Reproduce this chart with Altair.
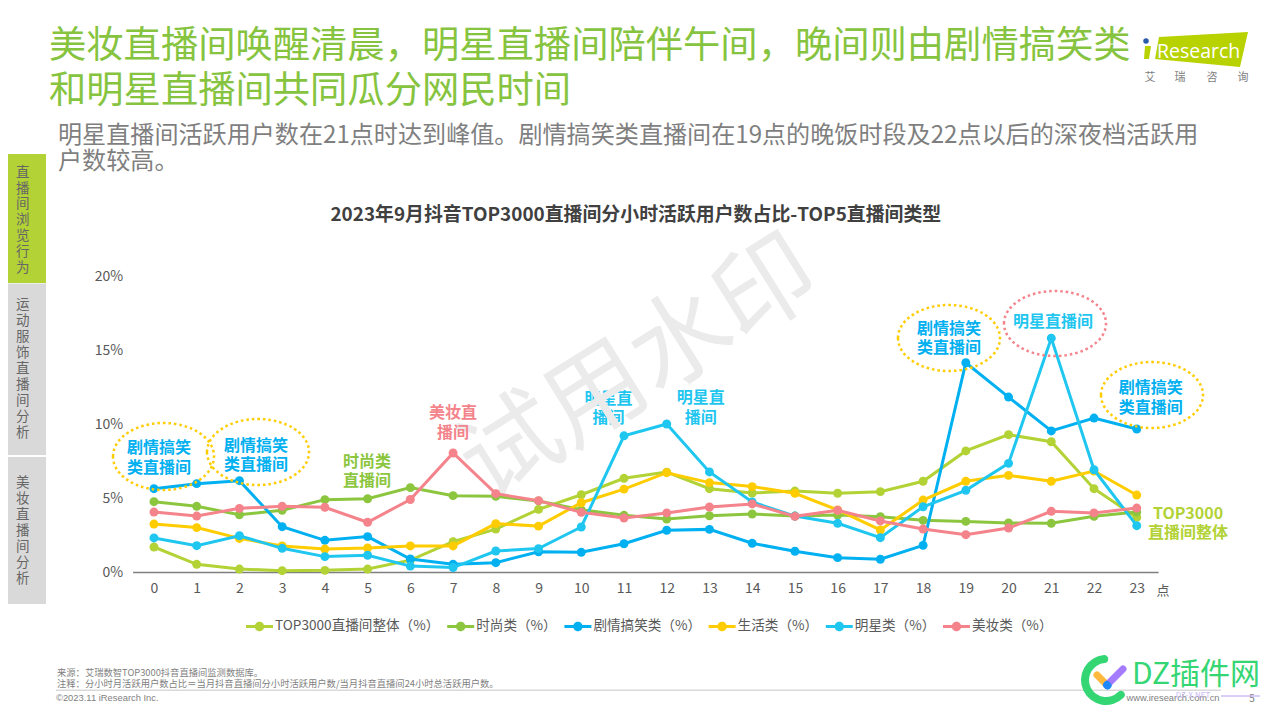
import altair as alt
import pandas as pd

FONT = "Noto Sans CJK SC"

HOURS = list(range(24))
SERIES_NAMES = ["TOP3000直播间整体（%）", "时尚类（%）", "剧情搞笑类（%）", "生活类（%）", "明星类（%）", "美妆类（%）"]
TOP3000 = [1.69, 0.52, 0.2, 0.09, 0.11, 0.2, 0.8, 2.05, 2.9, 4.23, 5.22, 6.33, 6.75, 5.63, 5.34, 5.47, 5.32, 5.43, 6.13, 8.18, 9.28, 8.8, 5.63, 3.69]
FASHION = [4.75, 4.44, 3.87, 4.17, 4.89, 4.95, 5.7, 5.16, 5.11, 4.8, 4.2, 3.83, 3.58, 3.8, 3.92, 3.78, 3.85, 3.74, 3.49, 3.42, 3.31, 3.29, 3.76, 4.05]
COMEDY = [5.63, 5.97, 6.17, 3.06, 2.14, 2.39, 0.88, 0.52, 0.63, 1.37, 1.33, 1.91, 2.82, 2.88, 1.94, 1.4, 0.97, 0.86, 1.8, 14.14, 11.82, 9.53, 10.4, 9.66]
LIFE = [3.24, 3.0, 2.27, 1.76, 1.55, 1.62, 1.76, 1.76, 3.27, 3.1, 4.68, 5.6, 6.71, 6.04, 5.77, 5.32, 4.19, 2.84, 4.86, 6.13, 6.53, 6.13, 6.82, 5.2]
STAR = [2.3, 1.78, 2.45, 1.6, 1.04, 1.13, 0.4, 0.3, 1.42, 1.58, 3.04, 9.2, 10.0, 6.76, 4.73, 3.78, 3.29, 2.32, 4.41, 5.52, 7.34, 15.8, 6.91, 3.13]
BEAUTY = [4.05, 3.78, 4.3, 4.44, 4.37, 3.36, 4.9, 8.04, 5.29, 4.82, 4.03, 3.65, 3.99, 4.39, 4.6, 3.76, 4.17, 3.45, 2.9, 2.52, 2.97, 4.1, 3.99, 4.32]
SERIES_VALUES = [TOP3000, FASHION, COMEDY, LIFE, STAR, BEAUTY]
SERIES_COLORS = ["#b2d235", "#8cc63f", "#00b0f0", "#ffcc00", "#1fc6f0", "#f4838b"]

HEADLINE = ["美妆直播间唤醒清晨，明星直播间陪伴午间，晚间则由剧情搞笑类", "和明星直播间共同瓜分网民时间"]
SUBHEAD = ["明星直播间活跃用户数在21点时达到峰值。剧情搞笑类直播间在19点的晚饭时段及22点以后的深夜档活跃用", "户数较高。"]
CHART_TITLE = "2023年9月抖音TOP3000直播间分小时活跃用户数占比-TOP5直播间类型"
FOOT_SOURCE = "来源：艾瑞数智TOP3000抖音直播间监测数据库。"
FOOT_NOTE = "注释：分小时月活跃用户数占比＝当月抖音直播间分小时活跃用户数/当月抖音直播间24小时总活跃用户数。"
COPYRIGHT = "©2023.11 iResearch Inc."
SITE = "www.iresearch.com.cn"
SIDE_TABS = ["直播间浏览行为", "运动服饰直播间分析", "美妆直播间分析"]

# plot-area origin on the page (page margin 8 px included)
X0, Y0 = 132.6, 276.0
W, H = 1025.5, 296.0
LEFT, TOP = X0 - 8, Y0 - 8


def px(v):
    return v - X0


def py(v):
    return v - Y0


ONE = pd.DataFrame({"a": [0]})


def label(text, x, y, size, color, weight="normal", align="center", angle=None, family=FONT):
    kw = dict(font=family, fontSize=size, color=color, fontWeight=weight, align=align, baseline="middle")
    if angle is not None:
        kw["angle"] = angle
    return alt.Chart(pd.DataFrame({"t": [text]})).mark_text(**kw).encode(
        text="t:N", x=alt.value(px(x)), y=alt.value(py(y + 0.05 * size)))


def box(x1, x2, y1, y2, color):
    return alt.Chart(ONE).mark_rect(color=color, opacity=1).encode(
        x=alt.value(px(x1)), x2=alt.value(px(x2)), y=alt.value(py(y1)), y2=alt.value(py(y2)))


def seg(x1, y1, x2, y2, color, width, cap="butt"):
    return alt.Chart(ONE).mark_rule(color=color, strokeWidth=width, strokeCap=cap).encode(
        x=alt.value(px(x1)), x2=alt.value(px(x2)), y=alt.value(py(y1)), y2=alt.value(py(y2)))


def ellipse_path(ratio):
    k = 0.5523
    r = ratio
    return (f"M-1,0C-1,{-k*r:.4f},{-k:.4f},{-r:.4f},0,{-r:.4f}C{k:.4f},{-r:.4f},1,{-k*r:.4f},1,0"
            f"C1,{k*r:.4f},{k:.4f},{r:.4f},0,{r:.4f}C{-k:.4f},{r:.4f},-1,{k*r:.4f},-1,0Z")


def ellipse(cx, cy, rx, ry, color):
    return alt.Chart(ONE).mark_point(shape=ellipse_path(ry / rx), size=(2 * rx) ** 2, filled=False,
                                     stroke=color, strokeWidth=2.5, strokeDash=[2.5, 3], opacity=1).encode(
        x=alt.value(px(cx)), y=alt.value(py(cy)))


# legend marker: a line with a dot
r, k, t = 0.35, 0.35 * 0.5523, 0.11
LEGEND_SYMBOL = (f"M-1,{-t}H1V{t}H-1Z"
                 f"M{-r},0C{-r},{-k},{-k},{-r},0,{-r}C{k},{-r},{r},{-k},{r},0C{r},{k},{k},{r},0,{r}C{-k},{r},{-r},{k},{-r},0Z")

df = pd.DataFrame({
    "hour": HOURS * len(SERIES_NAMES),
    "value": [v for s in SERIES_VALUES for v in s],
    "series": [n for n in SERIES_NAMES for _ in HOURS],
})

x_enc = alt.X("hour:Q", scale=alt.Scale(domain=[-0.5, 23.5], nice=False, zero=False),
              axis=alt.Axis(values=HOURS, title=None, grid=False, ticks=False, format="d", labelFlush=False,
                            labelOverlap=False, labelFont=FONT, labelFontSize=14, labelColor="#595959",
                            labelPadding=9, domainColor="#7f7f7f", domainWidth=1.5))
y_enc = alt.Y("value:Q", scale=alt.Scale(domain=[0, 20], nice=False),
              axis=alt.Axis(values=[0, 5, 10, 15, 20], title=None, grid=False, ticks=False, domain=False,
                            labelExpr="datum.value + '%'", labelFont=FONT, labelFontSize=14, labelColor="#595959",
                            labelPadding=10))
color_scale = alt.Scale(domain=SERIES_NAMES, range=SERIES_COLORS)
legend = alt.Legend(title=None, orient="none", legendX=246 - X0, legendY=626 - Y0 - 13.5, direction="horizontal",
                    columns=6, symbolType=LEGEND_SYMBOL, symbolSize=729, symbolStrokeWidth=0, symbolOpacity=1,
                    labelFont=FONT, labelFontSize=13.6, labelColor="#595959", labelOffset=2, columnPadding=7.2,
                    labelLimit=300)

layers = []

# page furniture
layers += [box(1, 46, 154, 283, "#b2d235"), box(1, 46, 283.5, 455, "#d9d9d9"), box(1, 46, 457, 604, "#d9d9d9")]
for tab, start, step in zip(SIDE_TABS, [172, 304, 482], [15.9, 16.1, 16.0]):
    for i, ch in enumerate(tab):
        layers.append(label(ch, 22.7, start + i * step, 13.5, "#666666"))

layers += [label(HEADLINE[0], 49, 45, 37.3, "#86c440", align="left"), label(HEADLINE[1], 49, 90, 37.3, "#86c440", align="left")]
layers += [label(SUBHEAD[0], 58, 135, 24.1, "#7f7f7f", align="left"), label(SUBHEAD[1], 58, 161, 24.1, "#7f7f7f", align="left")]

# this label sits under the watermark, as in the reference
layers += [label("明星直", 608.6, 398, 16, "#1fc6f0", "bold"), label("播间", 608.6, 417, 16, "#1fc6f0", "bold")]
layers.append(label("试用水印", 640, 365, 100, "#ebebeb", angle=328))

# series: dots first so that the shared legend takes its filled symbol from them
color_enc = alt.Color("series:N", scale=color_scale, legend=legend)
for name in SERIES_NAMES:
    d = df[df.series == name]
    layers.append(alt.Chart(d).mark_circle(size=80, opacity=1).encode(x=x_enc, y=y_enc, color=color_enc))
    layers.append(alt.Chart(d).mark_line(strokeWidth=3).encode(x=x_enc, y=y_enc, color=color_enc))

# callouts
C_BLUE, C_SKY, C_GREEN, C_PINK, C_LIME = "#00b0f0", "#1fc6f0", "#8cc63f", "#f4838b", "#b2d235"
layers += [ellipse(163.5, 456.5, 50.5, 33.5, "#ffcc00"), ellipse(258, 452, 51, 33, "#ffcc00"),
           ellipse(949, 338, 51, 33, "#ffcc00"), ellipse(1055, 323.5, 51, 32.5, C_PINK),
           ellipse(1152, 395, 51, 33, "#ffcc00")]
CALLOUTS = [("剧情搞笑", 159, 447, C_BLUE), ("类直播间", 159, 467, C_BLUE),
            ("剧情搞笑", 256, 445, C_BLUE), ("类直播间", 256, 464, C_BLUE),
            ("时尚类", 367, 461, C_GREEN), ("直播间", 367, 480, C_GREEN),
            ("美妆直", 453, 412, C_PINK), ("播间", 453, 432, C_PINK),
            ("明星直", 700.7, 397, C_SKY), ("播间", 700.7, 417, C_SKY),
            ("剧情搞笑", 949, 328, C_BLUE), ("类直播间", 949, 347, C_BLUE),
            ("明星直播间", 1053, 321, C_SKY),
            ("剧情搞笑", 1150.7, 387, C_BLUE), ("类直播间", 1150.7, 407, C_BLUE),
            ("TOP3000", 1188, 513, C_LIME), ("直播间整体", 1188, 532, C_LIME)]
layers += [label(t_, x_, y_, 16, c_, "bold") for t_, x_, y_, c_ in CALLOUTS]
layers.append(label("点", 1163, 590, 13, "#595959"))

# footer
layers += [label(FOOT_SOURCE, 57, 673, 9.3, "#7f7f7f", align="left"), label(FOOT_NOTE, 57, 684, 9.3, "#7f7f7f", align="left"),
           box(56, 1221, 689.5, 691, "#d9d9d9"), label(COPYRIGHT, 56, 698, 9.4, "#7f7f7f", align="left", family="Liberation Sans"),
           label(SITE, 1173, 698, 9.3, "#7f7f7f", family="Liberation Sans"), label("5", 1252, 698, 10, "#7f7f7f")]

# iResearch logo
LOGO_PATH = ("M-0.712,-0.25L1,-0.346L0.846,0.327L-0.788,0.173Z"
             "M-0.981,-0.077L-0.865,-0.077L-0.904,0.173L-1,0.173Z")
layers.append(alt.Chart(ONE).mark_point(shape=LOGO_PATH, size=104 ** 2, filled=True, color="#b8d200", opacity=1, strokeWidth=0).encode(
    x=alt.value(px(1196)), y=alt.value(py(50))))
layers.append(alt.Chart(ONE).mark_circle(size=30, color="#2a5caa", opacity=1).encode(x=alt.value(px(1146)), y=alt.value(py(41))))
layers.append(label("Research", 1157, 51, 19.5, "#ffffff", align="left", family="Open Sans"))
for ch, x_ in zip("艾瑞咨询", [1150, 1180, 1212, 1243]):
    layers.append(label(ch, x_, 77, 11, "#808080"))

# overlaid site mark at the lower right
DZ = "#34d673"
layers.append(alt.Chart(ONE).mark_arc(radius=25, radius2=17, theta=2.16, theta2=6.39, cornerRadius=4, color=DZ).encode(
    x=alt.value(px(1106)), y=alt.value(py(680))))
layers += [seg(1097, 675, 1107, 685, "#ffb93c", 7, "round"), seg(1107, 685, 1123, 669, "#a67cff", 7, "round"),
           seg(1107, 685, 1107.5, 685.5, "#1e88ff", 8, "round")]
layers.append(label("DZ插件网", 1132, 673, 30, DZ, align="left"))
layers.append(label("DZ-X.NET", 1193, 696, 8, "#c9b8f5"))
layers.append(seg(1221, 696, 1260, 696, "#b79cf5", 1))

chart = alt.layer(*layers).properties(
    width=W, height=H,
    # Vega measures a top title's offset from the top of everything drawn (the headline), hence the negative value
    title=alt.TitleParams(CHART_TITLE, font=FONT, fontSize=18.9, fontWeight="bold", color="#404040",
                          anchor="middle", frame="group", dx=-9.5, offset=-197),
    padding={"left": LEFT, "top": TOP, "right": 1264 - LEFT - W, "bottom": 704 - TOP - H},
    autosize=alt.AutoSizeParams(type="none"),
    background="#ffffff",
).configure_view(stroke=None)

chart.save("out.html", embed_options={"renderer": "svg", "actions": False})
